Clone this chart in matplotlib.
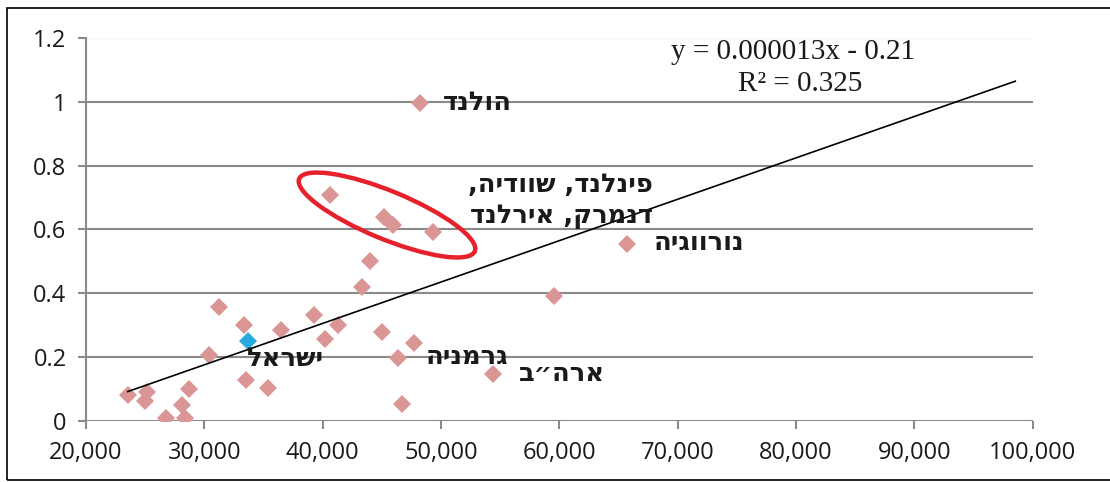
import matplotlib
matplotlib.use("Agg")
import matplotlib.pyplot as plt
from matplotlib.patches import Ellipse, Rectangle
from matplotlib.transforms import ScaledTranslation

# GDP per capita (x) vs. index value (y) for OECD countries
gdp = [23536, 25197, 24955, 26737, 28335, 28125, 28729, 30418, 31205, 33377,
       33557, 35370, 36480, 39290, 40197, 41313, 43365, 43969, 40651, 45175,
       45935, 49340, 48234, 45028, 47750, 46385, 46690, 54412, 59512, 65698]
index = [0.080, 0.090, 0.062, 0.007, 0.007, 0.049, 0.099, 0.206, 0.356, 0.300,
         0.127, 0.101, 0.284, 0.331, 0.255, 0.300, 0.418, 0.502, 0.708, 0.640,
         0.613, 0.591, 0.997, 0.277, 0.242, 0.197, 0.051, 0.146, 0.392, 0.555]

# Israel highlighted separately
israel_gdp = [33680]
israel_index = [0.251]

# Linear trend (as stated in the equation label)
trend_slope = 0.000013
trend_intercept = -0.215
trend_range = [23536, 98530]

x_ticks = [20000, 30000, 40000, 50000, 60000, 70000, 80000, 90000, 100000]
y_ticks = [0, 0.2, 0.4, 0.6, 0.8, 1.0, 1.2]
y_tick_labels = ["0", "0.2", "0.4", "0.6", "0.8", "1", "1.2"]

# Country annotations: (text, x, y) - left edge of each label
labels = [
    ("הולנד", 50170, 0.997),
    ("נורווגיה", 68000, 0.5575),
    ("ישראל", 33600, 0.193),
    ("גרמניה", 48730, 0.1995),
    ("ארה״ב", 56590, 0.146),
]
nordic_text = "פינלנד, שוודיה,\nדנמרק, אירלנד"
nordic_pos = (67900, 0.6926)  # right edge, vertical centre


def rtl(s):
    # render right-to-left text by reversing glyph order on each line
    return "\n".join(line[::-1] for line in s.split("\n"))


fig = plt.figure(figsize=(11.10, 4.82), dpi=100)
ax = fig.add_axes([86 / 1110, 1 - 420.5 / 482, (1032.7 - 86) / 1110, (420.5 - 38.5) / 482])

pink = "#D99694"
blue = "#29ABE2"
grid_gray = "#8A8A8A"

ax.set_xlim(20000, 100000)
ax.set_ylim(0, 1.2)
ax.set_xticks(x_ticks)
ax.set_xticklabels([f"{v:,}" for v in x_ticks])
ax.set_yticks(y_ticks)
ax.set_yticklabels(y_tick_labels)

for y in y_ticks:
    ax.axhline(y, color=grid_gray, lw=1.5, zorder=1)

for side in ["top", "right", "bottom"]:
    ax.spines[side].set_visible(False)
ax.spines["left"].set_color(grid_gray)
ax.spines["left"].set_linewidth(1.5)

ax.tick_params(axis="both", direction="out", length=6, width=1.5, color=grid_gray,
               labelsize=17, labelcolor="#1a1a1a")
ax.tick_params(axis="y", pad=8)
ax.tick_params(axis="x", pad=9)
for lab in ax.get_xticklabels() + ax.get_yticklabels():
    lab.set_fontfamily(["Open Sans", "DejaVu Sans"])

ax.plot(gdp, index, linestyle="none", marker="D", markersize=9.6,
        markeredgewidth=0, color=pink, zorder=3)
ax.plot(israel_gdp, israel_index, linestyle="none", marker="D", markersize=9.6,
        markeredgewidth=0, color=blue, zorder=4)

tx = trend_range
ty = [trend_slope * v + trend_intercept for v in tx]
ax.plot(tx, ty, color="black", lw=1.2, zorder=5)

heb_font = ["DejaVu Sans"]
for text, x, y in labels:
    ax.text(x, y, rtl(text), ha="left", va="center", fontsize=18.5, fontweight="bold",
            family=heb_font, color="#1a1a1a", zorder=6)

ax.text(nordic_pos[0], nordic_pos[1], rtl(nordic_text), ha="right", va="center",
        multialignment="right", fontsize=18.5, fontweight="bold", family=heb_font,
        color="#1a1a1a", linespacing=1.25, zorder=6)

# Regression equation and R^2 (equation box is narrower than its text)
serif = ["Liberation Serif", "DejaVu Serif"]
eq = fig.text(800 / 1110, 1 - 52 / 482, "y = 0.000013x - 0.215", ha="center", va="center",
              fontsize=21, family=serif, color="#1a1a1a")
eq.set_clip_path(Rectangle((0, 0), 915.5 / 1110, 1, transform=fig.transFigure))
fig.text(800 / 1110, 1 - 84 / 482, "R² = 0.325", ha="center", va="center",
         fontsize=21, family=serif, color="#1a1a1a")

# Red ellipse around the Nordic cluster
ell = Ellipse((0, 0), width=1.90, height=0.48, angle=-22.4, fill=False,
              edgecolor="#E5222B", lw=3.2,
              transform=fig.dpi_scale_trans + ScaledTranslation(45435, 0.6455, ax.transData),
              zorder=7, clip_on=False)
ax.add_artist(ell)

# Outer frame
fig.add_artist(Rectangle((7 / 1110, 2 / 482), 1.2, 1 - 10 / 482, transform=fig.transFigure,
                         fill=False, edgecolor="black", lw=1.2))

fig.savefig("out.png", dpi=100)
